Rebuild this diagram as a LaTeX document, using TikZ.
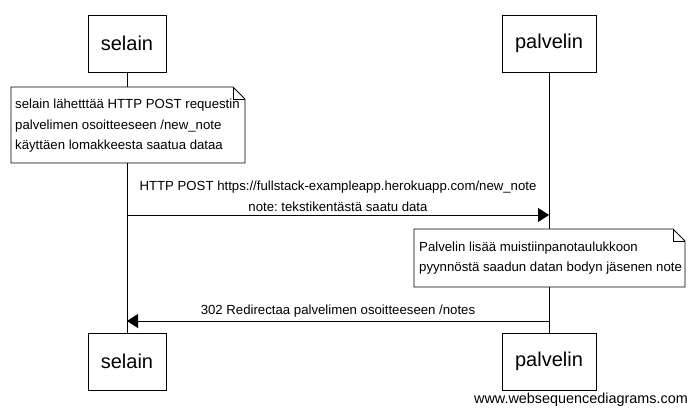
\documentclass[tikz,border=0pt]{standalone}
\usepackage{fontspec}
\setmainfont{Liberation Sans}
\usetikzlibrary{arrows.meta}
\frenchspacing
\begin{document}
\begin{tikzpicture}[x=1pt,y=-1pt,
  actor/.style={draw,line width=0.9pt,minimum width=78pt,minimum height=57pt,inner sep=0pt,font=\fontsize{20}{22}\selectfont},
  lbl/.style={font=\fontsize{13.2}{20.5}\selectfont,inner sep=0pt},
  msg/.style={line width=0.8pt,-{Triangle[length=11pt,width=14pt]}},
  life/.style={line width=0.8pt}]
\useasboundingbox (0,0) rectangle (694,414);
\fill[white] (0,0) rectangle (694,414);
% actors
\node[actor] (s1) at (127,43.5) {selain};
\node[actor,minimum width=94pt] (p1) at (549,43.5) {palvelin};
\node[actor] (s2) at (127,361.5) {selain};
\node[actor,minimum width=94pt] (p2) at (549,361.5) {palvelin};
% lifelines
\draw[life] (s1.south) -- (s2.north);
\draw[life] (p1.south) -- (p2.north);
% note 1
\draw[fill=white,line width=0.8pt] (11,87) -- (233,87) -- (245,99) -- (245,163) -- (11,163) -- cycle;
\draw[line width=0.6pt] (233,87) -- (233,99) -- (245,99);
\node[lbl,anchor=west,align=left] (n1) at (15,126) {selain lähetttää HTTP POST requestin\\palvelimen osoitteeseen /new\_note\\käyttäen lomakkeesta saatua dataa};
% message 1
\coordinate (a1) at (127,215);
\coordinate (b1) at (549,215);
\draw[msg] (a1) -- (b1);
\node[lbl] (m1a) at (338,187) {HTTP POST https://fullstack-exampleapp.herokuapp.com/new\_note};
\node[lbl] (m1b) at (338,207) {note: tekstikentästä saatu data};
% note 2
\draw[fill=white,line width=0.8pt] (414,229) -- (673,229) -- (685,241) -- (685,287) -- (414,287) -- cycle;
\draw[line width=0.6pt] (673,229) -- (673,241) -- (685,241);
\node[lbl,anchor=west,align=left] (n2) at (419,258) {Palvelin lisää muistiinpanotaulukkoon\\pyynnöstä saadun datan bodyn jäsenen note};
% message 2
\coordinate (a2) at (549,321);
\coordinate (b2) at (127,321);
\draw[msg] (a2) -- (b2);
\node[lbl] (m2) at (338,311) {302 Redirectaa palvelimen osoitteeseen /notes};
% watermark
\node[font=\fontsize{14.4}{16}\selectfont,inner sep=0pt] (wm) at (581,400) {www.websequencediagrams.com};
\end{tikzpicture}
\end{document}
